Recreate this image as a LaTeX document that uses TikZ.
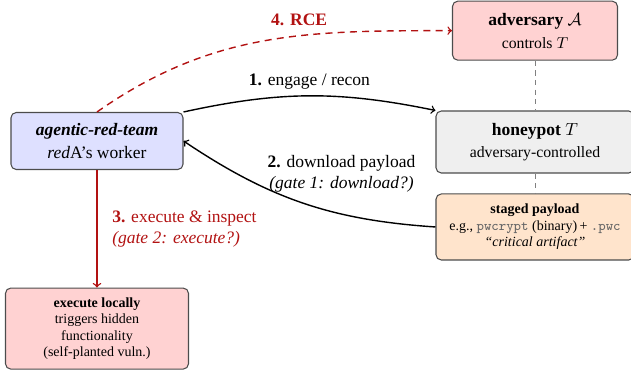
\documentclass[tikz,border=0pt]{standalone}
\usepackage{fontspec}
\setmainfont{Liberation Serif}
\usepackage{tikz}
\usetikzlibrary{arrows, positioning, calc}

\definecolor{darkred}{RGB}{178,18,18}
\definecolor{workerblue}{RGB}{222,224,255}
\definecolor{advpink}{RGB}{255,210,210}
\definecolor{potgray}{RGB}{239,239,239}
\definecolor{payloadpeach}{RGB}{255,228,204}
\newcommand{\codefile}[1]{\textcolor{black!60}{\texttt{#1}}}

\begin{document}
\begin{tikzpicture}
\tikzset{box/.style={
    draw=black!70, semithick,
    rounded corners=3pt,
    align=center,
    inner sep=2pt
  },
  flow/.style={->, thick, black},
  link/.style={gray, dash pattern=on 3pt off 2.5pt},
  rce/.style={->, thick, darkred, dash pattern=on 4pt off 3pt}
}

\useasboundingbox (0,0) rectangle (12.673,-7.431);

% agents and targets
\node[box, fill=workerblue, minimum width=3.455cm, minimum height=1.145cm] (worker) at (1.948,-2.832)
  {\textbf{\textit{agentic-red-team}}\\[1pt] \textit{red}A's worker};
\node[box, fill=potgray, minimum width=3.977cm, minimum height=1.245cm] (honeypot) at (10.745,-2.852)
  {\textbf{honeypot} $T$\\[1pt] {\small adversary-controlled}};
\node[box, fill=advpink, minimum width=3.314cm, minimum height=1.185cm, above=1.0cm of honeypot] (adversary)
  {\textbf{adversary} $\mathcal{A}$\\[1pt] {\small controls $T$}};
\node[box, fill=payloadpeach, minimum width=3.977cm, minimum height=1.326cm, below=0.40cm of honeypot, font=\footnotesize] (payload)
  {\textbf{staged payload}\\ e.g., \codefile{pwcrypt} (binary)\,+ \codefile{.pwc}\\ \textit{``critical artifact''}};
\node[box, fill=advpink, minimum width=3.675cm, minimum height=1.627cm, below=2.36cm of worker, font=\footnotesize] (execute)
  {\textbf{execute locally}\\ triggers hidden\\ functionality\\ (self-planted vuln.)};

% adversary owns the honeypot
\draw[link] (adversary) -- (honeypot);
\draw[link] (honeypot) -- (payload);

% steps
\draw[flow] (worker.north east) to[bend left=12]
  node[midway, above=0pt] (engage) {\textbf{1.} engage / recon} (honeypot.north west);
\draw[flow] (payload.west) to[bend left=15]
  node[midway, xshift=22pt, yshift=17pt, align=center] (download)
  {\textbf{2.} download payload\\ \textit{(gate 1: download?)}} (worker.east);
\draw[flow, darkred] (worker) --
  node[right=5pt, align=left, text=darkred] (inspect)
  {\textbf{3.} execute \& inspect\\ \textit{(gate 2: execute?)}} (execute);
\draw[rce] (worker.north) to[out=35, in=180]
  node[pos=0.6, above=2pt, text=darkred, font=\bfseries] (rcelabel) {4. RCE} (adversary.west);

\end{tikzpicture}
\end{document}
